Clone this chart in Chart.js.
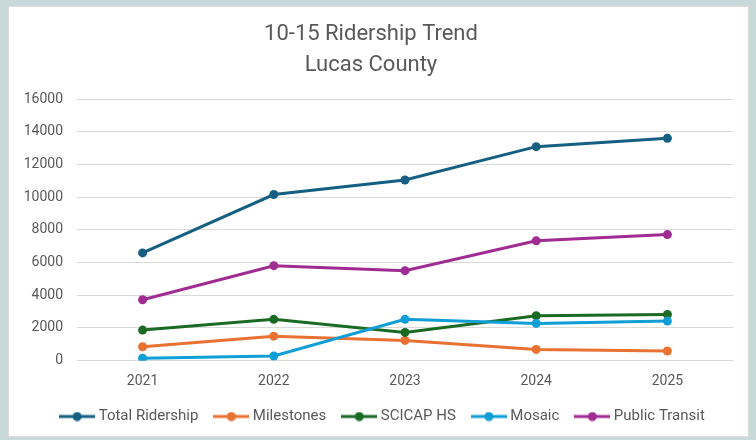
<!DOCTYPE html>
<html>
<head>
<meta charset="utf-8">
<title>10-15 Ridership Trend - Lucas County</title>
<script src="https://cdn.jsdelivr.net/npm/chart.js@4"></script>
<style>
  html, body { margin: 0; padding: 0; }
  body {
    width: 756px;
    height: 440px;
    background: #c8d9d9;
    position: relative;
    overflow: hidden;
  }
  #panel {
    position: absolute;
    left: 8px;
    top: 6px;
    width: 739px;
    height: 429px;
    border: 1px solid #dcdcdc;
    background: #fff;
  }
</style>
</head>
<body>
<div id="panel"><canvas id="chart"></canvas></div>
<script>
// data
const years = ["2021", "2022", "2023", "2024", "2025"];
const totalRidership = [6590, 10160, 11050, 13090, 13600];
const milestones = [850, 1500, 1240, 690, 590];
const scicapHs = [1870, 2530, 1730, 2750, 2830];
const mosaic = [150, 290, 2530, 2280, 2420];
const publicTransit = [3730, 5810, 5505, 7330, 7710];

const seriesNames = ["Total Ridership", "Milestones", "SCICAP HS", "Mosaic", "Public Transit"];
const seriesValues = [totalRidership, milestones, scicapHs, mosaic, publicTransit];
const seriesColors = ["#156082", "#e97132", "#196b24", "#0f9ed5", "#a02b93"];

const textGrey = "#595959";
Chart.defaults.font.family = "Roboto, 'Noto Sans', sans-serif";
Chart.defaults.color = textGrey;

// legend marker: short line with a dot, like the office legend
function legendIcon(color) {
  const c = document.createElement("canvas");
  c.width = 36;
  c.height = 10;
  const g = c.getContext("2d");
  g.strokeStyle = color;
  g.lineWidth = 3;
  g.beginPath();
  g.moveTo(0, 5);
  g.lineTo(36, 5);
  g.stroke();
  g.fillStyle = color;
  g.beginPath();
  g.arc(18, 5, 4.5, 0, Math.PI * 2);
  g.fill();
  return c;
}

// nudge the legend row a little to the right, as in the original
const legendShift = {
  id: "legendShift",
  beforeDraw(chart) {
    if (chart.legend) {
      chart.legend.left += 13;
      chart.legend.right += 13;
    }
  }
};

const datasets = seriesNames.map((name, i) => ({
  label: name,
  data: seriesValues[i],
  borderColor: seriesColors[i],
  backgroundColor: seriesColors[i],
  pointBackgroundColor: seriesColors[i],
  pointBorderWidth: 0,
  pointRadius: 4.5,
  borderWidth: 3,
  tension: 0,
  order: seriesNames.length - i  // later series drawn on top
}));

new Chart(document.getElementById("chart"), {
  type: "line",
  data: { labels: years, datasets: datasets },
  plugins: [legendShift],
  options: {
    responsive: true,
    maintainAspectRatio: false,
    animation: false,
    layout: { padding: { left: 0, right: 15, bottom: 2 } },
    plugins: {
      title: {
        display: true,
        text: ["10-15 Ridership Trend", "Lucas County"],
        color: textGrey,
        font: { size: 22, weight: "normal", lineHeight: 1.41 },
        padding: { top: 11.5, bottom: 18.5 }
      },
      legend: {
        position: "bottom",
        labels: {
          usePointStyle: true,
          pointStyleWidth: 28,
          padding: 19,
          color: textGrey,
          font: { size: 15 },
          generateLabels(chart) {
            const items = Chart.defaults.plugins.legend.labels.generateLabels(chart);
            items.sort((a, b) => a.datasetIndex - b.datasetIndex);
            items.forEach(it => { it.pointStyle = legendIcon(seriesColors[it.datasetIndex]); });
            return items;
          }
        }
      },
      tooltip: { enabled: false }
    },
    scales: {
      x: {
        offset: true,
        grid: { display: false },
        border: { display: false },
        ticks: { color: textGrey, font: { size: 14 }, padding: 4.5 },
        afterFit(scale) { scale.height = scale.height - 4.5; }
      },
      y: {
        min: 0,
        max: 16000,
        afterFit(scale) { scale.width = 68; },
        grid: { color: "#d9d9d9", lineWidth: 1, drawTicks: false },
        border: { display: false },
        ticks: {
          stepSize: 2000,
          color: textGrey,
          font: { size: 14 },
          padding: 14,
          callback: v => String(v)
        }
      }
    }
  }
});
</script>
</body>
</html>
